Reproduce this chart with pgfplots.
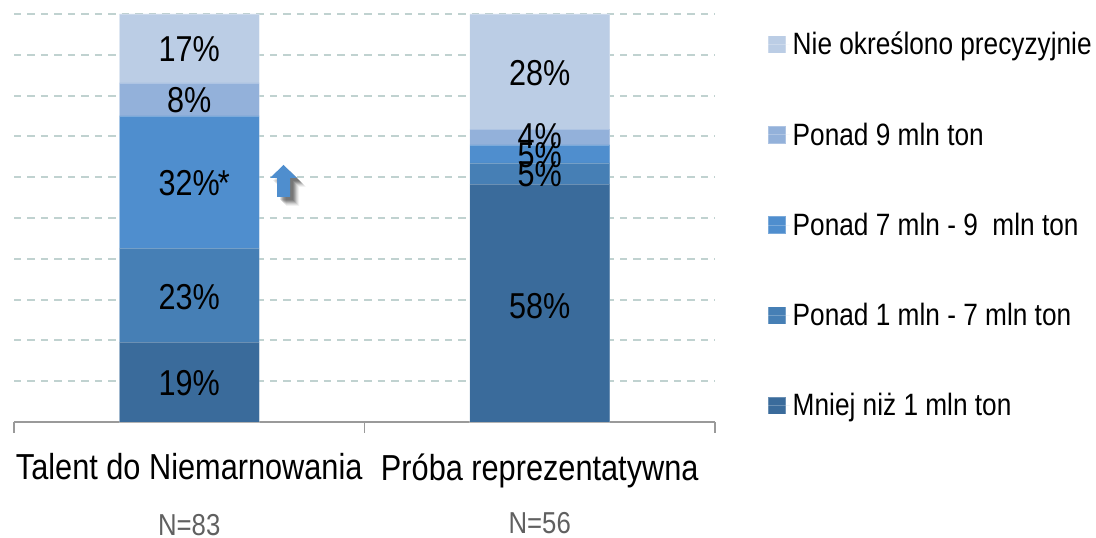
\documentclass[border=0pt]{standalone}
\usepackage{pgfplots}
\pgfplotsset{compat=1.18}
\usepackage{fontspec}
\setmainfont[FakeStretch=0.85]{Liberation Sans}
\definecolor{cA}{HTML}{3A6B9B}
\definecolor{cB}{HTML}{467FB5}
\definecolor{cC}{HTML}{4F8ECE}
\definecolor{cD}{HTML}{93B1DA}
\definecolor{cE}{HTML}{BBCDE5}
\definecolor{gridc}{HTML}{C0D2D0}
\definecolor{axc}{HTML}{9A9A9A}
\definecolor{nc}{HTML}{606060}
\begin{document}
\begin{tikzpicture}
\useasboundingbox (0pt,0pt) rectangle (822pt,403.5pt);
\begin{axis}[
  at={(10.5pt,87pt)}, anchor=south west,
  scale only axis, width=525.75pt, height=306pt,
  ybar stacked, bar width=105pt,
  xmin=-0.5, xmax=1.5, ymin=0, ymax=100,
  clip=false,
  axis x line=bottom, axis y line=left,
  x axis line style={-,draw=axc,line width=1.5pt},
  y axis line style={draw=none},
  xtick={0,1},
  xticklabels={Talent do Niemarnowania, Próba reprezentatywna},
  xticklabel style={font=\fontsize{27.1pt}{30pt}\selectfont, yshift=-16pt},
  major x tick style={draw=none},
  minor xtick={-0.5,0.5,1.5},
  tick align=outside,
  minor tick length=8pt,
  minor x tick style={draw=axc,line width=1pt},
  ytick={0,10,...,100}, yticklabels={},
  major y tick style={draw=none},
  ymajorgrids,
  grid style={draw=gridc,line width=1.4pt,dash pattern=on 5.6pt off 4.5pt},
  legend cell align=left,
  reverse legend,
  legend style={draw=none,fill=none,at={(1.0755,0.483)},anchor=west,inner sep=0pt,outer sep=0pt,
    font=\fontsize{23.15pt}{26pt}\selectfont,row sep=45.4pt},
  legend image code/.code={\path[#1] (0pt,-6.5pt) rectangle (13pt,6.5pt);\path (0pt,0pt) -- (16pt,0pt);},
]
\addplot[fill=cA,draw=white,draw opacity=0.25,line width=0.6pt] coordinates {(0,19.6) (1,58.3)};
\addplot[fill=cB,draw=white,draw opacity=0.25,line width=0.6pt] coordinates {(0,23.0) (1,5.2)};
\addplot[fill=cC,draw=white,draw opacity=0.25,line width=0.6pt] coordinates {(0,32.4) (1,4.4)};
\addplot[fill=cD,draw=white,draw opacity=0.25,line width=0.6pt] coordinates {(0,8.1) (1,3.9)};
\addplot[fill=cE,draw=white,draw opacity=0.25,line width=0.6pt] coordinates {(0,16.9) (1,28.2)};
\legend{Mniej niż 1 mln ton, Ponad 1 mln - 7 mln ton, Ponad 7 mln - 9\ \ mln ton, Ponad 9 mln ton, Nie określono precyzyjnie}
\node[text=nc,font=\fontsize{22.7pt}{26pt}\selectfont,anchor=center] at (axis cs:0,-25.3) {N=83};
\node[text=nc,font=\fontsize{22.7pt}{26pt}\selectfont,anchor=center] at (axis cs:1,-24.8) {N=56};
\end{axis}
\begin{axis}[
  at={(10.5pt,87pt)}, anchor=south west,
  scale only axis, width=525.75pt, height=306pt,
  xmin=-0.5, xmax=1.5, ymin=0, ymax=100,
  hide axis, clip=false,
]
\addplot[only marks,mark=none,point meta=explicit symbolic,
  nodes near coords,
  nodes near coords style={anchor=center,text=black,font=\fontsize{27pt}{30pt}\selectfont,inner sep=0pt},
] coordinates {
 (0,9.6) [19\%] (0,30.5) [23\%] (0,58.5) [32\%\rlap{\kern-1.5pt *}] (0,78.8) [8\%] (0,91.5) [17\%]
 (1,28.5) [58\%] (1,60.8) [5\%] (1,65.5) [5\%] (1,70) [4\%] (1,85.5) [28\%]
};
\end{axis}
% arrow annotation
\begin{scope}[yshift=403.5pt,x=0.75pt,y=-0.75pt]
\foreach \d/\o in {9/0.05,8/0.07,7/0.09,6/0.12,5/0.14,4/0.14,3/0.10}{
  \fill[black,opacity=\o] (270+\d,178+\d)--(283.5+\d,165+\d)--(297+\d,178+\d)--(290+\d,178+\d)--(290+\d,197+\d)--(277+\d,197+\d)--(277+\d,178+\d)--cycle;
}
\fill[cC] (270,178)--(283.5,165)--(297,178)--(290,178)--(290,197)--(277,197)--(277,178)--cycle;
\end{scope}
\end{tikzpicture}
\end{document}
